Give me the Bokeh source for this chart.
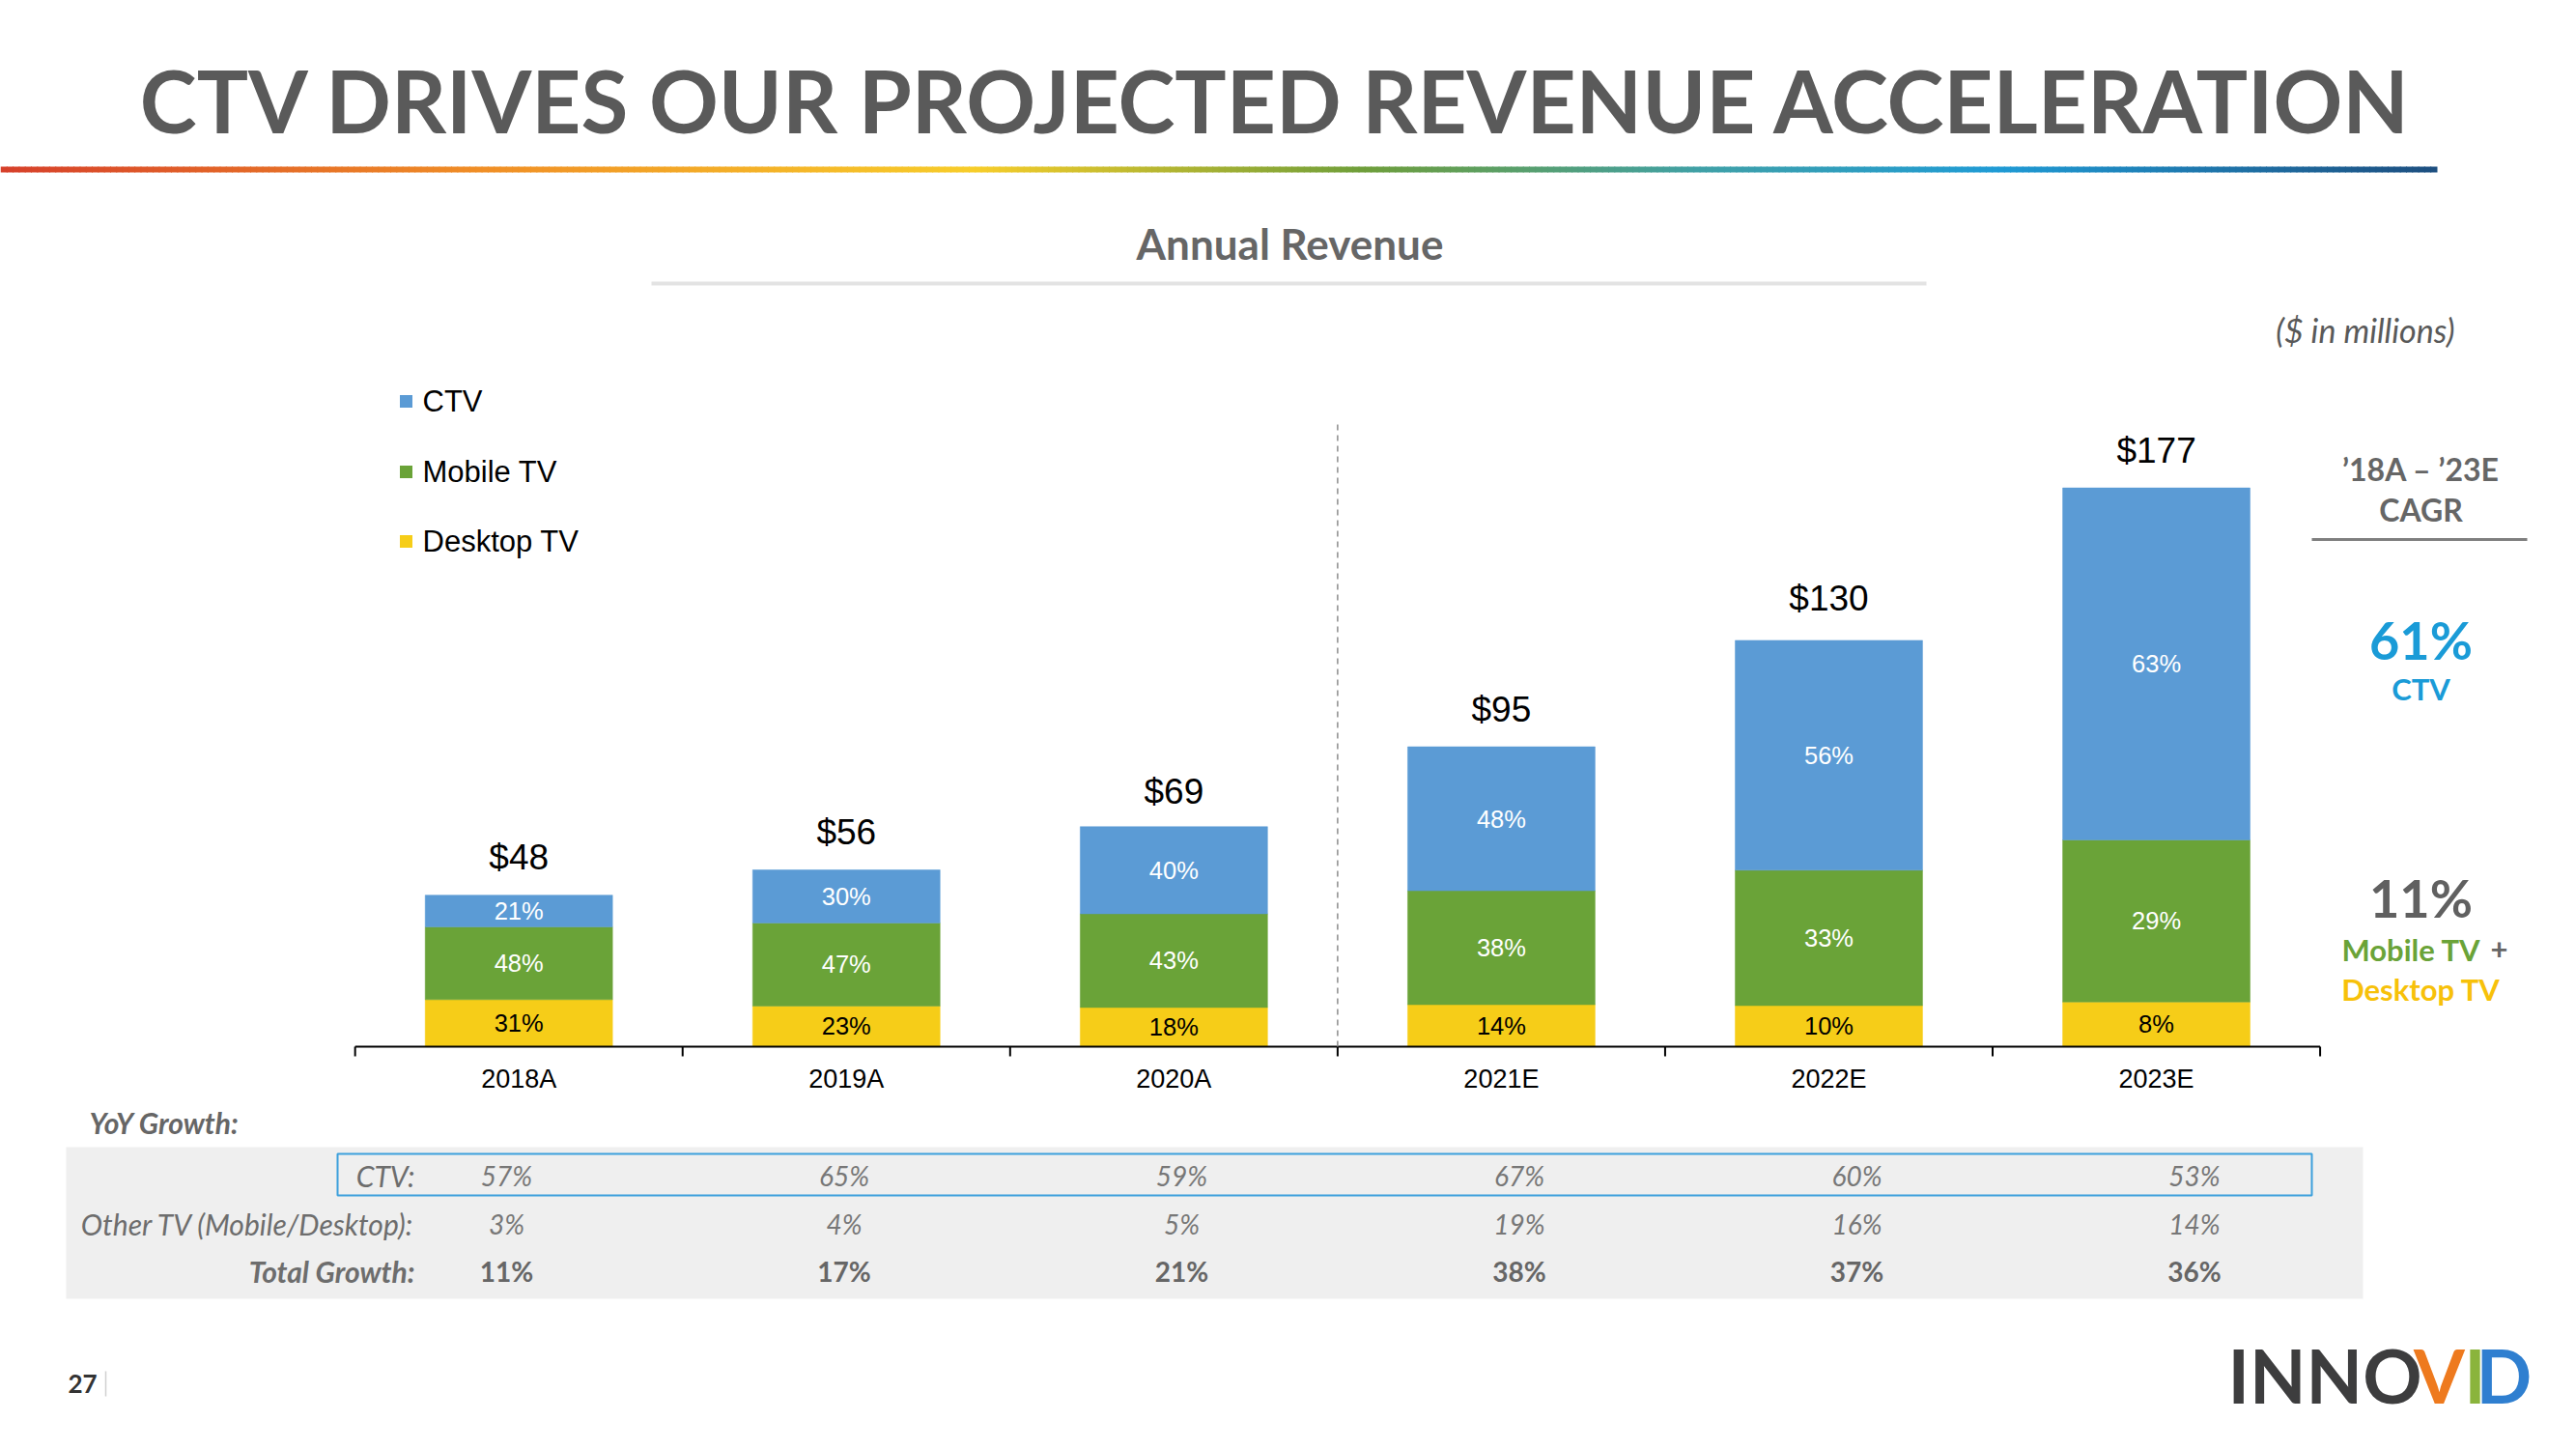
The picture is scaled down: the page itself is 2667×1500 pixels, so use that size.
import numpy as np
from bokeh.plotting import figure
from bokeh.models import Range1d, ColumnDataSource
from bokeh.core.properties import value
from bokeh.embed import file_html
from bokeh.resources import INLINE

# ---------------- data ----------------
categories = ["2018A", "2019A", "2020A", "2021E", "2022E", "2023E"]
totals = [48, 56, 69, 95, 130, 177]
ctv_share = [21, 30, 40, 48, 56, 63]
mobile_share = [48, 47, 43, 38, 33, 29]
desktop_share = [31, 23, 18, 14, 10, 8]
series_names = ["CTV", "Mobile TV", "Desktop TV"]
yoy_ctv = ["57%", "65%", "59%", "67%", "60%", "53%"]
yoy_other = ["3%", "4%", "5%", "19%", "16%", "14%"]
yoy_total = ["11%", "17%", "21%", "38%", "37%", "36%"]
row_labels = ["CTV:", "Other TV (Mobile/Desktop):", "Total Growth:"]
cagr_ctv = "61%"
cagr_other = "11%"

# ---------------- style / layout ----------------
W, H = 2667, 1500
BASE_PX = 1083.0
PX_PER = 3.268
CAT0 = 536.7
CATW = 339.07
BLUE = "#5b9bd5"
GREEN = "#6aa338"
YELLOW = "#f6cd18"
GRAY = "#666666"
BODY = "Lato"
ARIAL = "Liberation Sans"

p = figure(width=W, height=H,
           x_range=Range1d(-CAT0 / CATW, (W - CAT0) / CATW),
           y_range=Range1d(-(H - BASE_PX) / PX_PER, BASE_PX / PX_PER),
           output_backend="svg", toolbar_location=None, min_border=0,
           x_axis_location=None, y_axis_location=None,
           outline_line_color=None, background_fill_color="white",
           border_fill_color="white")
p.grid.visible = False
p.extra_x_ranges = {"px": Range1d(0, W)}
p.extra_y_ranges = {"py": Range1d(H, 0)}


def txt(x, y, s, size, color, font=BODY, style="normal", align="center",
        baseline="middle", xr="px", yr="py"):
    if not isinstance(x, (list, np.ndarray)):
        x, y, s = [x], [y], [s]
    p.text(x=list(x), y=list(y), text=list(s), x_range_name=xr, y_range_name=yr,
           text_font=value(font), text_font_size=value(f"{size}px"),
           text_font_style=style, text_color=color, text_align=align,
           text_baseline=baseline)


# ---------------- title + gradient rule ----------------
txt(1322, 103, "CTV DRIVES OUR PROJECTED REVENUE ACCELERATION", 89, "#5a5a5a", style="bold")

stops = [(0.0, "#d6402a"), (0.2, "#f08f26"), (0.4, "#f7cd2a"), (0.56, "#6e9e3a"),
         (0.7, "#3fa0a8"), (0.82, "#1f9bd5"), (1.0, "#1d4e7f")]


def hex2rgb(h):
    return np.array([int(h[i:i + 2], 16) for i in (1, 3, 5)], dtype=float)


N = 400
gx = np.linspace(0, 2522, N + 1)
pos = [s[0] for s in stops]
cols = [hex2rgb(s[1]) for s in stops]
seg_cols = []
for i in range(N):
    f = (i + 0.5) / N
    rgb = [np.interp(f, pos, [c[k] for c in cols]) for k in range(3)]
    seg_cols.append("#%02x%02x%02x" % tuple(int(round(v)) for v in rgb))
p.segment(x0=gx[:-1], y0=[175] * N, x1=gx[1:] + 1, y1=[175] * N, line_color=seg_cols,
          line_width=6, x_range_name="px", y_range_name="py")

# ---------------- subtitle ----------------
txt(1335, 251, "Annual Revenue", 44, "#666666", style="bold")
p.segment(x0=[674], y0=[293], x1=[1994], y1=[293], line_color="#e3e3e3", line_width=4,
          x_range_name="px", y_range_name="py")
txt(2541, 341, "($ in millions)", 34, "#595959", style="italic", align="right")

# ---------------- legend ----------------
leg_y = [415, 488, 560]
p.scatter(x=[420] * 3, y=leg_y, marker="square", size=13, fill_color=[BLUE, GREEN, YELLOW],
          line_color=None, x_range_name="px", y_range_name="py")
txt([437] * 3, leg_y, series_names, 31, "#000000", font=ARIAL, align="left")

# ---------------- bars ----------------
idx = np.arange(len(categories))
tot = np.array(totals, dtype=float)
ctv_v = tot * np.array(ctv_share) / 100
mob_v = tot * np.array(mobile_share) / 100
desk_v = tot * np.array(desktop_share) / 100
src = ColumnDataSource(dict(x=idx, desktop=desk_v, mobile=mob_v, ctv=ctv_v))
p.vbar_stack(["desktop", "mobile", "ctv"], x="x", width=0.572, source=src,
             fill_color=[YELLOW, GREEN, BLUE], line_color=[YELLOW, GREEN, BLUE], line_width=0.5)

# segment labels
txt(idx, desk_v / 2, [f"{v}%" for v in desktop_share], 25.5, "#000000", font=ARIAL,
    xr="default", yr="default")
txt(idx, desk_v + mob_v / 2, [f"{v}%" for v in mobile_share], 25.5, "#ffffff", font=ARIAL,
    xr="default", yr="default")
txt(idx, desk_v + mob_v + ctv_v / 2, [f"{v}%" for v in ctv_share], 25.5, "#ffffff", font=ARIAL,
    xr="default", yr="default")
# totals
txt(idx, tot + 39 / PX_PER, [f"${v}" for v in totals], 37, "#000000", font=ARIAL,
    xr="default", yr="default")

# axis line + ticks
nb = len(categories)
p.segment(x0=[-0.5], y0=[0], x1=[nb - 0.5], y1=[0], line_color="#000000", line_width=2)
bx = np.arange(nb + 1) - 0.5
p.segment(x0=bx, y0=[0] * (nb + 1), x1=bx, y1=[-10 / PX_PER] * (nb + 1),
          line_color="#000000", line_width=2)
txt(idx, [1116] * nb, categories, 27, "#000000", font=ARIAL, xr="default", yr="py")

# actual / estimate divider
p.segment(x0=[2.5], y0=[0], x1=[2.5], y1=[(BASE_PX - 435) / PX_PER],
          line_color="#8c8c8c", line_width=1.5, line_dash="6 5")

# ---------------- CAGR panel ----------------
txt(2506, 485, "\u201918A \u2013 \u201923E", 32, GRAY, style="bold")
txt(2506, 527, "CAGR", 32, GRAY, style="bold")
p.segment(x0=[2393], y0=[558], x1=[2616], y1=[558], line_color="#7f7f7f", line_width=3,
          x_range_name="px", y_range_name="py")
txt(2506, 662, cagr_ctv, 54, "#1a9bd7", style="bold")
txt(2506, 712, "CTV", 31, "#1a9bd7", style="bold")
txt(2506, 929, cagr_other, 54, "#606060", style="bold")
txt(2568, 982, "Mobile TV", 31, GREEN, style="bold", align="right")
txt(2578, 982, "+", 31, GRAY, style="bold", align="left")
txt(2506, 1023, "Desktop TV", 31, "#f7c10a", style="bold")

# ---------------- YoY growth table ----------------
txt(92, 1161, "YoY Growth:", 30, GRAY, style="bold italic", align="left")
p.quad(left=[68], right=[2446], top=[1187], bottom=[1344], fill_color="#efefef",
       line_color=None, x_range_name="px", y_range_name="py")
p.quad(left=[349], right=[2393], top=[1194], bottom=[1237], fill_color=None,
       line_color="#3ca0dc", line_width=2, x_range_name="px", y_range_name="py")
row_y = [1216, 1266, 1315]
txt([429] * 2, row_y[:2], row_labels[:2], 30, "#6d6d6d", style="italic", align="right")
txt(429, row_y[2], row_labels[2], 30, "#6d6d6d", style="bold italic", align="right")
col_x = 524 + np.arange(nb) * 349.5
txt(col_x, [row_y[0]] * nb, yoy_ctv, 28, "#777777", style="italic")
txt(col_x, [row_y[1]] * nb, yoy_other, 28, "#777777", style="italic")
txt(col_x, [row_y[2]] * nb, yoy_total, 28, "#666666", style="bold")

# ---------------- footer ----------------
txt(70, 1432, "27", 26, "#333333", style="bold", align="left")
p.segment(x0=[109], y0=[1419], x1=[109], y1=[1445], line_color="#d0d0d0", line_width=1.5,
          x_range_name="px", y_range_name="py")
txt(2306, 1423, "INNO", 76, "#3d3d3e", style="bold", align="left")
txt(2525, 1423, "V", 76, "#ee7a1e", style="bold")
txt(2562, 1423, "I", 76, "#8ab43c", style="bold")
txt(2592, 1423, "D", 76, "#2f7fd0", style="bold")

open("out.html", "w").write(file_html(p, INLINE))
